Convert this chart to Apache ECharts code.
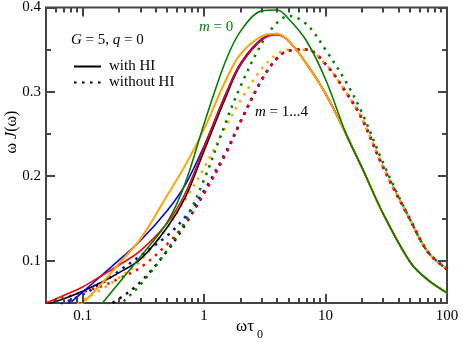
<!DOCTYPE html>
<html>
<head>
<meta charset="utf-8">
<script src="https://cdn.jsdelivr.net/npm/echarts@6/dist/echarts.min.js"></script>
<style>
  html, body { margin: 0; padding: 0; background: #fff; }
  #chart { width: 463px; height: 342px; }
</style>
</head>
<body>
<div id="chart"></div>
<script>
// sample points along omega*tau0 (log axis)
const xs = [0.05, 0.07, 0.1, 0.15, 0.2, 0.3, 0.5, 0.7, 1, 1.5, 2, 3, 4, 5, 7, 10, 15, 20, 30, 50, 70, 100];

// with HI (solid)
const hiM0 = [-0.03, -0.01, 0.02, 0.052, 0.074, 0.105, 0.146, 0.192, 0.262, 0.336, 0.372, 0.396, 0.397, 0.386, 0.36, 0.315, 0.248, 0.21, 0.155, 0.098, 0.077, 0.062];
const hiBlack = [0.048, 0.055, 0.064, 0.076, 0.086, 0.102, 0.14, 0.175, 0.23, 0.293, 0.332, 0.362, 0.368, 0.36, 0.333, 0.298, 0.248, 0.21, 0.155, 0.098, 0.077, 0.062];
const hiRed = [0.05, 0.059, 0.069, 0.084, 0.095, 0.112, 0.145, 0.18, 0.234, 0.296, 0.333, 0.362, 0.368, 0.36, 0.333, 0.298, 0.248, 0.21, 0.155, 0.098, 0.077, 0.062];
const hiBlue = [0.03, 0.044, 0.063, 0.085, 0.101, 0.124, 0.16, 0.19, 0.236, 0.297, 0.334, 0.363, 0.368, 0.36, 0.333, 0.298, 0.248, 0.21, 0.155, 0.098, 0.077, 0.062];
const hiOrange = [0.02, 0.035, 0.05, 0.076, 0.097, 0.126, 0.178, 0.213, 0.256, 0.313, 0.345, 0.366, 0.369, 0.36, 0.333, 0.298, 0.248, 0.21, 0.155, 0.098, 0.077, 0.062];

// without HI (dotted)
const noM0 = [-0.03, -0.01, 0.01, 0.03, 0.047, 0.072, 0.113, 0.147, 0.196, 0.263, 0.307, 0.358, 0.382, 0.39, 0.38, 0.35, 0.31, 0.275, 0.215, 0.148, 0.11, 0.09];
const noBlack = [0.0, 0.02, 0.035, 0.045, 0.055, 0.075, 0.112, 0.143, 0.18, 0.226, 0.265, 0.315, 0.34, 0.349, 0.35, 0.333, 0.298, 0.268, 0.21, 0.148, 0.11, 0.09];
const noRed = [0.05, 0.056, 0.063, 0.071, 0.079, 0.092, 0.12, 0.145, 0.18, 0.226, 0.265, 0.315, 0.34, 0.349, 0.35, 0.333, 0.298, 0.268, 0.21, 0.148, 0.11, 0.09];
const noBlue = [0.04, 0.05, 0.06, 0.075, 0.088, 0.106, 0.13, 0.152, 0.183, 0.228, 0.265, 0.315, 0.34, 0.349, 0.35, 0.333, 0.298, 0.268, 0.21, 0.148, 0.11, 0.09];
const noOrange = [0.02, 0.04, 0.053, 0.068, 0.08, 0.1, 0.14, 0.172, 0.21, 0.258, 0.29, 0.328, 0.345, 0.35, 0.35, 0.333, 0.298, 0.268, 0.21, 0.148, 0.11, 0.09];

// axis ticks
const xMajor = [0.1, 1, 10, 100];
const xMinor = [0.06, 0.07, 0.08, 0.09, 0.2, 0.3, 0.4, 0.5, 0.6, 0.7, 0.8, 0.9, 2, 3, 4, 5, 6, 7, 8, 9, 20, 30, 40, 50, 60, 70, 80, 90];
const yMajor = [0.1, 0.2, 0.3, 0.4];
const yMinor = [0.15, 0.25, 0.35];

const X_MIN = 0.05, X_MAX = 100, Y_MIN = 0.05, Y_MAX = 0.4;
const serif = 'Liberation Serif';
const axisColor = '#444';

const chart = echarts.init(document.getElementById('chart'));

// log10 transform so the value axis behaves like the original log axis
const lg = v => Math.log10(v);
const pts = ys => xs.map((x, i) => [lg(x), ys[i]]);

const makeLine = (name, ys, color, dotted, width) => ({
  name, type: 'line', data: pts(ys), showSymbol: false, symbol: 'circle',
  smooth: 0.35, clip: true,
  lineStyle: { color, width: width || 1.6, type: dotted ? [2.5, 5.5] : 'solid' },
  itemStyle: { color }
});

const texts = [
  {
    type: 'text', left: 71, top: 33,
    style: {
      text: '{i|G} = 5, {i|q} = 0',
      font: '15px "Liberation Serif"', fill: '#000',
      rich: { i: { fontFamily: serif, fontStyle: 'italic', fontSize: 15 } }
    }
  },
  {
    type: 'text', left: 199, top: 20,
    style: {
      text: '{i|m} = 0', font: '15px "Liberation Serif"', fill: '#008000',
      rich: { i: { fontFamily: serif, fontStyle: 'italic', fontSize: 15, fill: '#008000' } }
    }
  },
  {
    type: 'text', left: 255, top: 105,
    style: {
      text: '{i|m} = 1...4', font: '15px "Liberation Serif"', fill: '#000',
      rich: { i: { fontFamily: serif, fontStyle: 'italic', fontSize: 15 } }
    }
  },
  {
    type: 'text', x: 12, y: 132, rotation: Math.PI / 2,
    style: {
      text: 'ω {i|J}(ω)', font: '16px "Liberation Serif"', fill: '#000',
      align: 'center', verticalAlign: 'middle',
      rich: { i: { fontFamily: serif, fontStyle: 'italic', fontSize: 16 } }
    }
  },
  {
    type: 'text', x: 245, y: 327,
    style: { text: 'ωτ', font: '17px "Liberation Serif"', fill: '#000', align: 'center', verticalAlign: 'middle' }
  },
  {
    type: 'text', x: 257, y: 335,
    style: { text: '0', font: '12px "Liberation Serif"', fill: '#000', align: 'left', verticalAlign: 'middle' }
  }
];

chart.setOption({
  animation: false,
  grid: { left: 46, right: 16, top: 7, bottom: 39, show: true, borderColor: axisColor, borderWidth: 2, backgroundColor: 'transparent' },
  xAxis: {
    type: 'value', min: lg(X_MIN), max: lg(X_MAX),
    splitLine: { show: false },
    axisLine: { show: false, onZero: false },
    axisTick: { show: false },
    axisLabel: {
      customValues: xMajor.map(lg), margin: 6,
      fontFamily: serif, fontSize: 15, color: '#000',
      formatter: v => String(Number(Math.pow(10, v).toPrecision(2)))
    }
  },
  yAxis: {
    type: 'value', min: Y_MIN, max: Y_MAX,
    splitLine: { show: false },
    axisLine: { show: false, onZero: false },
    axisTick: { show: false },
    axisLabel: {
      customValues: yMajor, margin: 5,
      fontFamily: serif, fontSize: 15, color: '#000',
      formatter: v => v.toFixed(1)
    }
  },
  legend: {
    data: ['with HI', 'without HI'],
    orient: 'vertical', left: 73, top: 59, padding: 0,
    itemWidth: 27, itemHeight: 14, itemGap: 1,
    itemStyle: { opacity: 0 },
    textStyle: { fontFamily: serif, fontSize: 15, color: '#000', padding: [0, 0, 0, 3] },
    selectedMode: false
  },
  series: [
    makeLine('without HI', [], '#000', true, 2.5),
    makeLine('with HI', [], '#000', false, 1.8),
    makeLine('no-black', noBlack, '#000000', true, 2.5),
    makeLine('no-blue', noBlue, '#0000ff', true, 2.5),
    makeLine('no-red', noRed, '#ff0000', true, 2.5),
    makeLine('no-orange', noOrange, '#ffa500', true, 2.5),
    makeLine('no-m0', noM0, '#008000', true, 2.5),
    makeLine('hi-black', hiBlack, '#000000', false),
    makeLine('hi-blue', hiBlue, '#0000ff', false),
    makeLine('hi-red', hiRed, '#ff0000', false),
    makeLine('hi-orange', hiOrange, '#ffa500', false, 2),
    makeLine('hi-m0', hiM0, '#008000', false)
  ],
  graphic: texts
});

// inward ticks on all four sides, placed with the chart's own axis scales
const toPx = v => chart.convertToPixel({ xAxisIndex: 0 }, lg(v));
const toPy = v => chart.convertToPixel({ yAxisIndex: 0 }, v);
const edgeL = toPx(X_MIN), edgeR = toPx(X_MAX), edgeT = toPy(Y_MAX), edgeB = toPy(Y_MIN);
const makeTick = (x1, y1, x2, y2) => ({
  type: 'line', z: 100, silent: true,
  shape: { x1, y1, x2, y2 },
  style: { stroke: axisColor, lineWidth: 2 }
});
const tickMarks = [];
xMajor.concat(xMinor).forEach(v => {
  const len = xMajor.includes(v) ? 9 : 5;
  const x = Math.round(toPx(v));
  tickMarks.push(makeTick(x, edgeB, x, edgeB - len), makeTick(x, edgeT, x, edgeT + len));
});
yMajor.concat(yMinor).forEach(v => {
  const len = yMajor.includes(v) ? 9 : 5;
  const y = Math.round(toPy(v));
  tickMarks.push(makeTick(edgeL, y, edgeL + len, y), makeTick(edgeR, y, edgeR - len, y));
});
chart.setOption({ graphic: texts.concat(tickMarks) });
</script>
</body>
</html>
